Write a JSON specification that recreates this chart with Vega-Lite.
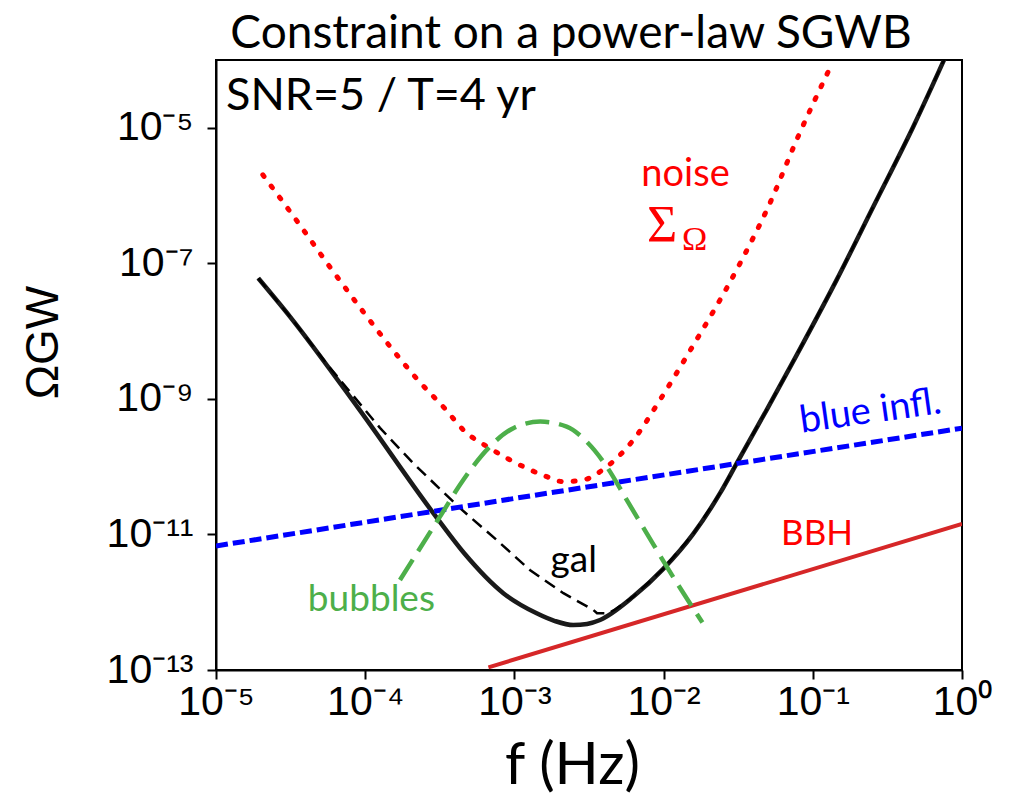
{
  "$schema": "https://vega.github.io/schema/vega-lite/v6.json",
  "width": 746,
  "height": 610,
  "autosize": {"type": "none"},
  "padding": {"left": 216, "top": 60, "right": 53, "bottom": 126},
  "background": "white",
  "title": {"text": "Constraint on a power-law SGWB", "font": "Lato", "fontSize": 46, "fontWeight": "normal", "color": "black", "anchor": "middle", "dx": -18, "offset": -44, "baseline": "bottom"},
  "config": {
    "view": {"stroke": "black", "strokeWidth": 2},
    "axis": {"grid": false, "domainColor": "black", "domainWidth": 2, "tickColor": "black", "tickWidth": 2, "tickSize": 9, "labelColor": "black", "titleColor": "black", "labelFont": "Liberation Sans", "labelFontSize": 41, "labelFlush": false, "labelOverlap": false, "labelBound": false, "titleFontWeight": "normal"}
  },
  "datasets": {
    "curves": [
      {"s": "total", "f": 1.92e-5, "omega": 6.04e-8},
      {"s": "total", "f": 3.13e-5, "omega": 1.64e-8},
      {"s": "total", "f": 8.99e-5, "omega": 7.30e-10},
      {"s": "total", "f": 2.98e-4, "omega": 1.83e-11},
      {"s": "total", "f": 4.61e-4, "omega": 5.27e-12},
      {"s": "total", "f": 8.43e-4, "omega": 1.36e-12},
      {"s": "total", "f": 1.41e-3, "omega": 6.87e-13},
      {"s": "total", "f": 1.87e-3, "omega": 5.28e-13},
      {"s": "total", "f": 2.48e-3, "omega": 4.61e-13},
      {"s": "total", "f": 3.07e-3, "omega": 4.78e-13},
      {"s": "total", "f": 3.75e-3, "omega": 5.47e-13},
      {"s": "total", "f": 6.27e-3, "omega": 1.21e-12},
      {"s": "total", "f": 9.95e-3, "omega": 3.10e-12},
      {"s": "total", "f": 1.58e-2, "omega": 1.02e-11},
      {"s": "total", "f": 2.39e-2, "omega": 4.06e-11},
      {"s": "total", "f": 3.09e-2, "omega": 1.12e-10},
      {"s": "total", "f": 4.91e-2, "omega": 6.89e-10},
      {"s": "total", "f": 7.60e-2, "omega": 3.99e-9},
      {"s": "total", "f": 0.1445, "omega": 5.70e-8},
      {"s": "total", "f": 0.2547, "omega": 6.89e-7},
      {"s": "total", "f": 0.4721, "omega": 1.045e-5},
      {"s": "total", "f": 0.750, "omega": 9.53e-5},
      {"s": "total", "f": 0.794, "omega": 1.26e-4},
      {"s": "gal", "f": 1.92e-5, "omega": 6.04e-8},
      {"s": "gal", "f": 3.13e-5, "omega": 1.64e-8},
      {"s": "gal", "f": 5.81e-5, "omega": 2.87e-9},
      {"s": "gal", "f": 1.256e-4, "omega": 3.73e-10},
      {"s": "gal", "f": 2.10e-4, "omega": 1.12e-10},
      {"s": "gal", "f": 4.32e-4, "omega": 2.44e-11},
      {"s": "gal", "f": 7.60e-4, "omega": 8.30e-12},
      {"s": "gal", "f": 1.27e-3, "omega": 2.99e-12},
      {"s": "gal", "f": 2.13e-3, "omega": 1.36e-12},
      {"s": "gal", "f": 3.38e-3, "omega": 7.69e-13},
      {"s": "gal", "f": 3.58e-3, "omega": 6.87e-13},
      {"s": "gal", "f": 4.26e-3, "omega": 6.87e-13},
      {"s": "gal", "f": 4.72e-3, "omega": 7.82e-13},
      {"s": "gal", "f": 6.27e-3, "omega": 1.21e-12},
      {"s": "gal", "f": 9.95e-3, "omega": 3.10e-12},
      {"s": "gal", "f": 1.58e-2, "omega": 1.02e-11},
      {"s": "gal", "f": 2.39e-2, "omega": 4.06e-11},
      {"s": "gal", "f": 3.09e-2, "omega": 1.12e-10},
      {"s": "gal", "f": 4.91e-2, "omega": 6.89e-10},
      {"s": "gal", "f": 7.60e-2, "omega": 3.99e-9},
      {"s": "gal", "f": 0.1445, "omega": 5.70e-8},
      {"s": "gal", "f": 0.2547, "omega": 6.89e-7},
      {"s": "gal", "f": 0.4721, "omega": 1.045e-5},
      {"s": "gal", "f": 0.750, "omega": 9.53e-5},
      {"s": "gal", "f": 0.794, "omega": 1.26e-4},
      {"s": "noise", "f": 2.06e-5, "omega": 2.02e-6},
      {"s": "noise", "f": 3.48e-5, "omega": 4.24e-7},
      {"s": "noise", "f": 5.81e-5, "omega": 8.79e-8},
      {"s": "noise", "f": 9.86e-5, "omega": 1.84e-8},
      {"s": "noise", "f": 1.48e-4, "omega": 5.79e-9},
      {"s": "noise", "f": 2.25e-4, "omega": 1.91e-9},
      {"s": "noise", "f": 3.48e-4, "omega": 6.89e-10},
      {"s": "noise", "f": 4.55e-4, "omega": 3.48e-10},
      {"s": "noise", "f": 6.85e-4, "omega": 1.87e-10},
      {"s": "noise", "f": 1.21e-3, "omega": 9.48e-11},
      {"s": "noise", "f": 1.60e-3, "omega": 7.30e-11},
      {"s": "noise", "f": 2.13e-3, "omega": 6.01e-11},
      {"s": "noise", "f": 2.90e-3, "omega": 6.37e-11},
      {"s": "noise", "f": 4.16e-3, "omega": 1.00e-10},
      {"s": "noise", "f": 6.27e-3, "omega": 2.48e-10},
      {"s": "noise", "f": 9.46e-3, "omega": 9.66e-10},
      {"s": "noise", "f": 1.47e-2, "omega": 4.73e-9},
      {"s": "noise", "f": 3.17e-2, "omega": 8.97e-8},
      {"s": "noise", "f": 5.16e-2, "omega": 7.73e-7},
      {"s": "noise", "f": 7.80e-2, "omega": 6.65e-6},
      {"s": "noise", "f": 0.127, "omega": 6.78e-5},
      {"s": "blue", "f": 1e-5, "omega": 6.76e-12},
      {"s": "blue", "f": 1e-3, "omega": 3.40e-11},
      {"s": "blue", "f": 1, "omega": 3.70e-10},
      {"s": "bbh", "f": 6.7e-4, "omega": 1.094e-13},
      {"s": "bbh", "f": 1, "omega": 1.43e-11},
      {"s": "bubbles", "f": 1.71e-4, "omega": 2.13e-12},
      {"s": "bubbles", "f": 3.17e-4, "omega": 1.83e-11},
      {"s": "bubbles", "f": 4.54e-4, "omega": 6.37e-11},
      {"s": "bubbles", "f": 6.85e-4, "omega": 1.98e-10},
      {"s": "bubbles", "f": 9.84e-4, "omega": 3.70e-10},
      {"s": "bubbles", "f": 1.49e-3, "omega": 4.62e-10},
      {"s": "bubbles", "f": 2.24e-3, "omega": 3.90e-10},
      {"s": "bubbles", "f": 3.05e-3, "omega": 2.34e-10},
      {"s": "bubbles", "f": 4.16e-3, "omega": 1.00e-10},
      {"s": "bubbles", "f": 5.66e-3, "omega": 3.23e-11},
      {"s": "bubbles", "f": 7.71e-3, "omega": 1.04e-11},
      {"s": "bubbles", "f": 1.05e-2, "omega": 3.35e-12},
      {"s": "bubbles", "f": 1.82e-2, "omega": 5.02e-13}
    ],
    "labels": [
      {"label": "SNR=5 / T=4 yr", "f": 1.167e-5, "omega": 1.845e-5},
      {"label": "noise", "f": 0.01403, "omega": 1.393e-6},
      {"label": "Σ", "f": 7.74e-3, "omega": 2.07e-7},
      {"label": "Ω", "f": 0.01327, "omega": 1.58e-7},
      {"label": "gal", "f": 2.5e-3, "omega": 2.79e-12},
      {"label": "bubbles", "f": 1.10e-4, "omega": 7.43e-13},
      {"label": "BBH", "f": 0.1067, "omega": 7.0e-12},
      {"label": "blue infl.", "f": 0.2495, "omega": 4.43e-10}
    ]
  },
  "encoding": {
    "x": {"field": "f", "type": "quantitative", "scale": {"type": "log", "domain": [1e-5, 1]},
      "axis": {"title": "f (Hz)", "values": [1e-5, 1e-4, 1e-3, 1e-2, 1e-1, 1], "labelPadding": 3,
        "labelExpr": "'10' + (datum.value < 0.5 ? '⁻' : '') + (round(abs(log(datum.value))/LN10) >= 10 ? substring('⁰¹²³⁴⁵⁶⁷⁸⁹', floor(round(abs(log(datum.value))/LN10)/10), floor(round(abs(log(datum.value))/LN10)/10) + 1) : '') + substring('⁰¹²³⁴⁵⁶⁷⁸⁹', round(abs(log(datum.value))/LN10) % 10, round(abs(log(datum.value))/LN10) % 10 + 1)",
        "titleFont": "Lato", "titleFontSize": 58, "titleX": 356, "titleY": 113, "titleBaseline": "alphabetic", "titleAlign": "center"}},
    "y": {"field": "omega", "type": "quantitative", "scale": {"type": "log", "domain": [1e-13, 1e-4]},
      "axis": {"title": "ΩGW", "values": [1e-13, 1e-11, 1e-9, 1e-7, 1e-5], "labelPadding": 14,
        "labelExpr": "'10' + (datum.value < 0.5 ? '⁻' : '') + (round(abs(log(datum.value))/LN10) >= 10 ? substring('⁰¹²³⁴⁵⁶⁷⁸⁹', floor(round(abs(log(datum.value))/LN10)/10), floor(round(abs(log(datum.value))/LN10)/10) + 1) : '') + substring('⁰¹²³⁴⁵⁶⁷⁸⁹', round(abs(log(datum.value))/LN10) % 10, round(abs(log(datum.value))/LN10) % 10 + 1)",
        "titleFont": "Liberation Sans", "titleFontSize": 46, "titleX": -173, "titleY": 282, "titleBaseline": "middle", "titleAlign": "center", "titleAngle": -90}}
  },
  "layer": [
    {"data": {"name": "curves"}, "transform": [{"filter": "datum.s == 'total'"}],
     "mark": {"type": "line", "color": "#1a1a1a", "strokeWidth": 4.5, "clip": true, "interpolate": "monotone"}},
    {"data": {"name": "curves"}, "transform": [{"filter": "datum.s == 'gal'"}],
     "mark": {"type": "line", "color": "black", "strokeWidth": 2.5, "strokeDash": [12, 7], "clip": true}},
    {"data": {"name": "curves"}, "transform": [{"filter": "datum.s == 'bbh'"}],
     "mark": {"type": "line", "color": "#d62728", "strokeWidth": 4, "clip": true}},
    {"data": {"name": "curves"}, "transform": [{"filter": "datum.s == 'noise'"}],
     "mark": {"type": "line", "color": "#ff0000", "strokeWidth": 5, "strokeDash": [2, 12], "strokeCap": "round", "clip": true, "interpolate": "monotone"}},
    {"data": {"name": "curves"}, "transform": [{"filter": "datum.s == 'blue'"}],
     "mark": {"type": "line", "color": "#0000ff", "strokeWidth": 5, "strokeDash": [12, 5], "clip": true}},
    {"data": {"name": "curves"}, "transform": [{"filter": "datum.s == 'bubbles'"}],
     "mark": {"type": "line", "color": "#4daf4a", "strokeWidth": 4.5, "strokeDash": [24, 10], "clip": true, "interpolate": "monotone"}},
    {"data": {"name": "labels"}, "transform": [{"filter": "datum.label == 'SNR=5 / T=4 yr'"}],
     "mark": {"type": "text", "font": "Lato", "fontSize": 45, "color": "black", "align": "left", "baseline": "alphabetic"},
     "encoding": {"text": {"field": "label"}}},
    {"data": {"name": "labels"}, "transform": [{"filter": "datum.label == 'noise'"}],
     "mark": {"type": "text", "font": "Lato", "fontSize": 38, "color": "#ff0000", "align": "center", "baseline": "alphabetic"},
     "encoding": {"text": {"field": "label"}}},
    {"data": {"name": "labels"}, "transform": [{"filter": "datum.label == 'Σ'"}],
     "mark": {"type": "text", "font": "Liberation Serif", "fontSize": 52, "color": "#ff0000", "align": "left", "baseline": "alphabetic"},
     "encoding": {"text": {"field": "label"}}},
    {"data": {"name": "labels"}, "transform": [{"filter": "datum.label == 'Ω'"}],
     "mark": {"type": "text", "font": "Liberation Serif", "fontSize": 34, "color": "#ff0000", "align": "left", "baseline": "alphabetic"},
     "encoding": {"text": {"field": "label"}}},
    {"data": {"name": "labels"}, "transform": [{"filter": "datum.label == 'gal'"}],
     "mark": {"type": "text", "font": "Lato", "fontSize": 37, "color": "black", "align": "center", "baseline": "alphabetic"},
     "encoding": {"text": {"field": "label"}}},
    {"data": {"name": "labels"}, "transform": [{"filter": "datum.label == 'bubbles'"}],
     "mark": {"type": "text", "font": "Lato", "fontSize": 37, "color": "#4daf4a", "align": "center", "baseline": "alphabetic"},
     "encoding": {"text": {"field": "label"}}},
    {"data": {"name": "labels"}, "transform": [{"filter": "datum.label == 'BBH'"}],
     "mark": {"type": "text", "font": "Lato", "fontSize": 35, "color": "#ff0000", "align": "center", "baseline": "alphabetic"},
     "encoding": {"text": {"field": "label"}}},
    {"data": {"name": "labels"}, "transform": [{"filter": "datum.label == 'blue infl.'"}],
     "mark": {"type": "text", "font": "Lato", "fontSize": 38, "color": "#0000ff", "align": "center", "baseline": "alphabetic", "angle": -8},
     "encoding": {"text": {"field": "label"}}}
  ]
}
